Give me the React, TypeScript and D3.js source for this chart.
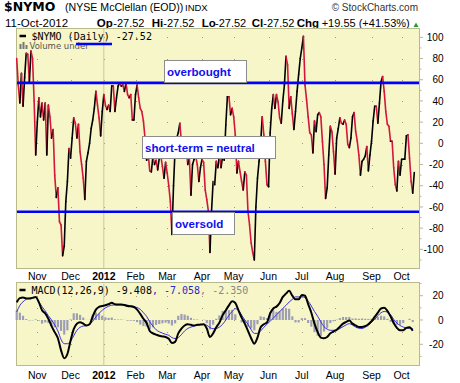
import React from "react";
import * as d3 from "d3";

// ---------- data ----------
const nymo = [
  80, 55, 38, 66, 35, 62, 85, 84, 58, 87, 80, 40, -11, 20, 43, 25, 38, 22, 38, -11,
  36, 25, 5, 13, -30, -51, -42, -74, -77, -106, -97, -55, -36, -5, -14, 5, 24, 19, 5, 18,
  -8, -20, -33, -53, -17, -9, 0, 14, 22, 33, 49, 36, 24, 7, 30, 46, 36, 32, 36, 30,
  54, 54, 30, 43, 54, 57, 54, 55, 49, 57, 46, 43, 46, 22, 22, 46, 55, 43, 33, 30,
  21, 5, -16, -10, -26, -27, -12, -20, -16, -25, -14, -12, -22, -33, -18, -28, -40, -55, -86, -40,
  -5, 5, 10, 19, 0, -8, 2, -5, -20, -14, -49, -20, -15, -12, -20, -36, -23, -15, -18, -44,
  -53, -64, -103, -64, -36, -39, -17, -23, -11, -23, -12, -16, 17, 44, 44, 27, 33, 25, 8, -28,
  -17, -27, -36, -44, -27, -30, -64, -77, -94, -103, -110, -60, -33, -17, 0, 25, 8, -17, -39, -41,
  10, 33, 46, 33, 46, 39, 24, 19, 40, 55, 82, 74, 33, 44, 28, 13, 30, 49, 65, 80,
  90, 101, 55, 41, 25, 10, 8, -9, 21, 11, 27, 29, 25, 2, -20, -52, -42, -11, 16, 11,
  -8, -29, 5, 14, 24, 19, 18, 22, 18, -1, -4, 5, 25, 29, 11, 2, -11, -30, -17, -15,
  -12, -3, -26, -11, 2, 21, 35, 35, 19, 38, 58, 63, 49, 30, 18, 16, 2, 2, -23, -39,
  -45, -17, -30, -15, -15, -15, 7, 8, -14, -36, -47, -27.52,
];

// MACD(12,26,9) and its signal, read every second trading day
const macdLine = [
  14.5, 18, 18.5, 17.8, 17.6, 18.2, 19, 14.5, 8, 5.5, 1, -5, -10, -15, -25, -31.5, -28, -17, -7.5, -3,
  -1.8, -3, -4.5, -3.5, 3, 8.5, 10.8, 11.5, 12.2, 13, 14.2, 13, 12.8, 12.8, 12.4, 11.5, 11.2, 10.6, 8.5, 5,
  1, -2.5, -9, -11, -12, -13, -13.5, -14, -15.5, -19, -18, -11, -7, -4.5, -3.5, -4, -4.5, -4, -3.8, -3.6,
  -7, -14, -11, -6, -2, 4, 8, 12, 15.4, 14, 8, 2, -3, -9, -15, -19.5, -14.5, -6, -3.5, -2,
  5.5, 9.5, 11, 14, 19, 21.7, 24, 20, 17, 17, 20.5, 20, 13, 6, -3, -10, -14.5, -15, -14, -11,
  -9.5, -8, -5.5, -3, -1.6, -0.5, -3, -4.5, -5.8, -5.8, -5, -3.5, -1, 2.5, 6, 9.5, 10, 7.5, 3, -2.5,
  -6.5, -8.5, -8.4, -6.5, -6, -8.8,
];
const signalLine = [
  6.6, 12, 15, 17, 18, 18.5, 18.5, 15, 11, 7.5, 3.5, 0, -4, -9, -16, -19.5, -19.5, -17.5, -13, -8.5,
  -6, -5, -4.6, -3.6, -1, 2.5, 5.5, 8, 10, 11.3, 12.2, 12.4, 12.4, 12.4, 12.3, 12.1, 11.8, 11.3, 10.2, 8.8,
  6, 3, -1.5, -5, -8, -9.7, -10.8, -11.8, -12.6, -14.5, -15.2, -14.5, -12, -9, -7, -5.8, -5, -4.4, -3.8, -3.8,
  -4.3, -6.3, -7.2, -7, -5.8, -3.5, 0, 3.9, 7, 9.3, 8, 4, 0, -3.5, -8, -11, -11, -9, -6, -3.5,
  -1, 1.5, 4.3, 6.8, 9.5, 12, 14.8, 17, 19, 19, 19, 18.5, 15.5, 11.5, 7, 3, -1.5, -5.5, -7.5, -8.5,
  -8.5, -8.3, -7, -5.5, -4, -3, -4.2, -5.8, -6.8, -7, -6, -4.4, -2, 0.5, 3.5, 6, 7, 6.5, 4.5, 0.5,
  -2.5, -4.5, -5.8, -6.5, -7, -7.1,
];
const macdStep = 2;

const monthLabels = ["Nov", "Dec", "2012", "Feb", "Mar", "Apr", "May", "Jun", "Jul", "Aug", "Sep", "Oct"];
const mainTicks = [100, 80, 60, 40, 20, 0, -20, -40, -60, -80, -100];
const macdTicks = [20, 0, -20];
const holidays = [
  "2011-11-24", "2011-12-26", "2012-01-02", "2012-01-16", "2012-02-20",
  "2012-04-06", "2012-05-28", "2012-07-04", "2012-09-03",
];
const overbought = 57;
const oversold = -64.5;

const quoteLabels = ["Op", "Hi", "Lo", "Cl"];
const quoteValues = ["-27.52", "-27.52", "-27.52", "-27.52"];

// ---------- helpers ----------
function tradingDays(n: number) {
  const out: Date[] = [];
  let t = Date.UTC(2011, 9, 13);
  while (out.length < n) {
    const d = new Date(t);
    const wd = d.getUTCDay();
    const key = d.toISOString().slice(0, 10);
    if (wd !== 0 && wd !== 6 && !holidays.includes(key)) out.push(d);
    t += 86400000;
  }
  return out;
}

const ARIAL = "'Liberation Sans', Arial, sans-serif";
const MONO = "'DejaVu Sans Mono', monospace";
const BG = "#f6f6c8";
const BORDER = "#b9b98e";

export default function App() {
  const L = 16, R = 419;
  const mainTop = 28, mainBot = 268;
  const macdTop = 282.5, macdBot = 365.5;

  const x = d3.scaleLinear().domain([0, nymo.length - 1]).range([16.7, 414.3]);
  const y = d3.scaleLinear().domain([-117.6, 108.8]).range([mainBot, mainTop]);
  const ym = d3.scaleLinear().domain([-37.45, 30.86]).range([macdBot, macdTop]);

  const dates = tradingDays(nymo.length);
  const monthIdx: number[] = [];
  dates.forEach((d, i) => {
    if (i > 0 && d.getUTCMonth() !== dates[i - 1].getUTCMonth()) monthIdx.push(i);
  });
  const yearIdx = monthIdx.filter((i) => dates[i].getUTCMonth() === 0);

  const macdGen = d3
    .line<number>()
    .x((_, i) => x(i * macdStep))
    .y((v) => ym(v))
    .curve(d3.curveMonotoneX);
  const hist = macdLine.map((v, i) => v - signalLine[i]);
  const barW = x(macdStep) - x(0) - 1;

  const dots = (ticks: number[], sc: (v: number) => number) =>
    monthIdx.flatMap((mi) =>
      ticks.map((t) => (
        <rect key={`${mi}-${t}`} x={Math.round(x(mi))} y={Math.round(sc(t))} width={1} height={1} fill="#9a9a80" />
      ))
    );

  const minorMain = d3.range(-110, 110, 10);
  const minorMacd = d3.range(-30, 31, 10);

  const box = (x0: number, y0: number, x1: number, y1: number, label: string, tx: number, ty: number) => (
    <g>
      <rect x={x0 + 0.5} y={y0 + 0.5} width={x1 - x0} height={y1 - y0} fill="#fff" stroke="#8c8c8c" />
      <text x={tx} y={ty} fontFamily={ARIAL} fontWeight="bold" fontSize={11.6} fill="#1010f0">
        {label}
      </text>
    </g>
  );

  const qx = [96.7, 151.7, 201.7, 251.7];
  const vx = [113.3, 163.3, 215, 263.3];

  return (
    <svg width={460} height={383} style={{ position: "absolute", left: 0, top: 0, background: "#fff" }}>
      {/* header */}
      <text x={4} y={11} fontFamily="'DejaVu Sans', sans-serif" fontWeight="bold" fontSize={12.5} fill="#000">
        $NYMO
      </text>
      <text x={65} y={11} fontFamily={ARIAL} fontSize={10.6} fill="#000">
        (NYSE McClellan (EOD))
      </text>
      <text x={185} y={11} fontFamily={ARIAL} fontSize={9.5} fill="#000">
        INDX
      </text>
      <text x={418} y={11} textAnchor="end" fontFamily={ARIAL} fontSize={10} fill="#333">
        © StockCharts.com
      </text>
      <text x={5} y={27} fontFamily={ARIAL} fontSize={11.5} fill="#000">
        11-Oct-2012
      </text>
      {quoteLabels.map((q, i) => (
        <g key={q}>
          <text x={qx[i]} y={27} fontFamily={ARIAL} fontWeight="bold" fontSize={11.5}>
            {q}
          </text>
          <text x={vx[i]} y={27} fontFamily={ARIAL} fontSize={11}>
            {quoteValues[i]}
          </text>
        </g>
      ))}
      <text x={296.7} y={27} fontFamily={ARIAL} fontWeight="bold" fontSize={11.5}>
        Chg
      </text>
      <text x={321.7} y={27} fontFamily={ARIAL} fontSize={11}>
        +19.55 (+41.53%)
      </text>
      <path d="M413.5,27 L418.5,27 L416,22.5 Z" fill="#2a9a2a" />

      {/* main panel */}
      <rect x={L + 0.5} y={mainTop + 0.5} width={R - L} height={mainBot - mainTop} fill={BG} stroke={BORDER} />
      {dots(mainTicks, y)}
      {yearIdx.map((i) => (
        <line key={i} x1={x(i)} x2={x(i)} y1={mainTop + 1} y2={mainBot} stroke="#c9c99b" strokeWidth={1} />
      ))}
      {nymo.slice(1).map((v, i) => (
        <line
          key={i}
          x1={x(i)}
          y1={y(nymo[i])}
          x2={x(i + 1)}
          y2={y(v)}
          stroke={v >= nymo[i] ? "#000" : "#d4163c"}
          strokeWidth={1.6}
          strokeLinecap="round"
        />
      ))}
      <line x1={L + 1} x2={R} y1={y(overbought)} y2={y(overbought)} stroke="#0000ff" strokeWidth={2.6} />
      <line x1={L + 1} x2={R} y1={y(oversold)} y2={y(oversold)} stroke="#0000ff" strokeWidth={2.6} />
      {box(164, 60, 246, 82, "overbought", 167, 76)}
      {box(142, 136, 275, 158, "short-term = neutral", 145, 152)}
      {box(172, 212, 234, 234, "oversold", 175, 228)}

      {/* main legend */}
      <line x1={19.5} x2={26} y1={36} y2={36} stroke="#000" strokeWidth={2.5} />
      <text x={31.5} y={39.5} fontFamily={MONO} fontSize={10} fill="#000">
        $NYMO (Daily) -27.52
      </text>
      <rect x={19.5} y={44} width={2} height={5} fill="#777" />
      <rect x={22.5} y={42} width={2} height={7} fill="#777" />
      <rect x={25.5} y={45} width={2} height={4} fill="#777" />
      <text x={29.5} y={48.5} fontFamily="'DejaVu Sans', sans-serif" fontSize={8.5} fill="#555">
        Volume under
      </text>
      <line x1={76} x2={112} y1={44} y2={44} stroke="#0000ff" strokeWidth={2.5} />

      {/* main right axis */}
      {minorMain.map((t) => (
        <line key={t} x1={R + 0.5} x2={R + (t % 20 === 0 ? 4 : 2.5)} y1={y(t)} y2={y(t)} stroke={BORDER} />
      ))}
      {mainTicks.map((t) => (
        <text key={t} x={443.5} y={y(t) + 3.6} textAnchor="end" fontFamily={ARIAL} fontSize={10} fill="#000">
          {t}
        </text>
      ))}
      {monthIdx.map((mi, k) => (
        <text
          key={mi}
          x={x(mi)}
          y={280}
          textAnchor="middle"
          fontFamily={ARIAL}
          fontSize={10.5}
          fontWeight={monthLabels[k] === "2012" ? "bold" : "normal"}
          fill="#000"
        >
          {monthLabels[k]}
        </text>
      ))}

      {/* MACD panel */}
      <rect x={L + 0.5} y={macdTop} width={R - L} height={macdBot - macdTop} fill={BG} stroke={BORDER} />
      {dots([20, 10, 0, -10, -20, -30], ym)}
      {yearIdx.map((i) => (
        <line key={i} x1={x(i)} x2={x(i)} y1={macdTop + 1} y2={macdBot} stroke="#c9c99b" strokeWidth={1} />
      ))}
      {hist.map((h, i) => (
        <rect
          key={i}
          x={x(i * macdStep) - barW / 2}
          y={Math.min(ym(h), ym(0))}
          width={barW}
          height={Math.abs(ym(h) - ym(0))}
          fill="#9d9db5"
        />
      ))}
      <path d={macdGen(signalLine) || ""} fill="none" stroke="#3b2fdc" strokeWidth={1} />
      <path d={macdGen(macdLine) || ""} fill="none" stroke="#000" strokeWidth={2} />

      <line x1={19.5} x2={25.5} y1={290} y2={290} stroke="#000" strokeWidth={2.5} />
      <text x={31.5} y={293.5} fontFamily={MONO} fontSize={10}>
        <tspan fill="#000">MACD(12,26,9) -9.408</tspan>
        <tspan fill="#2a2acc">, -7.058</tspan>
        <tspan fill="#888">, -2.350</tspan>
      </text>

      {minorMacd.map((t) => (
        <line key={t} x1={R + 0.5} x2={R + (t % 20 === 0 ? 4 : 2.5)} y1={ym(t)} y2={ym(t)} stroke={BORDER} />
      ))}
      {macdTicks.map((t) => (
        <text key={t} x={443.5} y={ym(t) + 3.6} textAnchor="end" fontFamily={ARIAL} fontSize={10} fill="#000">
          {t}
        </text>
      ))}
      {monthIdx.map((mi, k) => (
        <text
          key={mi}
          x={x(mi)}
          y={378.5}
          textAnchor="middle"
          fontFamily={ARIAL}
          fontSize={10.5}
          fontWeight={monthLabels[k] === "2012" ? "bold" : "normal"}
          fill="#000"
        >
          {monthLabels[k]}
        </text>
      ))}
    </svg>
  );
}
